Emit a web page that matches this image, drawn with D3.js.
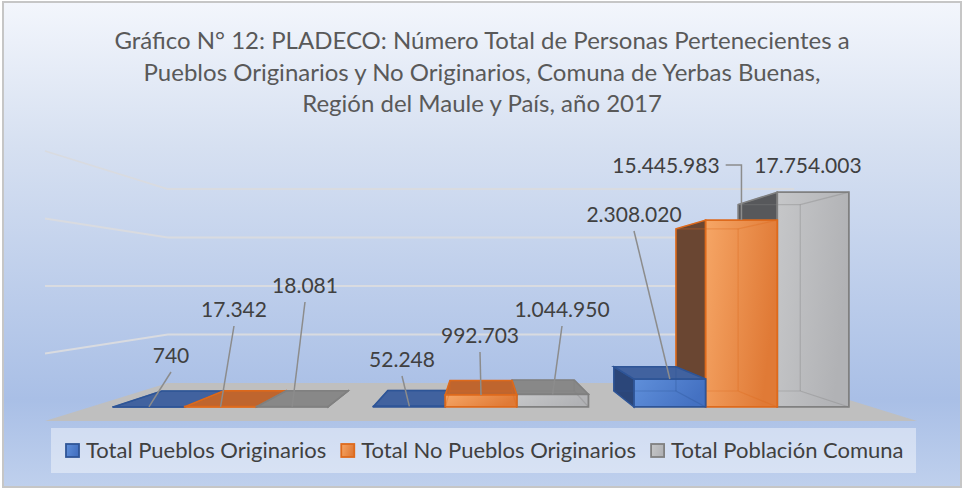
<!DOCTYPE html>
<html>
<head>
<meta charset="utf-8">
<script src="https://cdn.jsdelivr.net/npm/d3@7"></script>
<style>
  body { margin: 0; background: #fff; }
  svg { display: block; }
  text { font-family: Lato, "Noto Sans", sans-serif; }
</style>
</head>
<body>
<svg id="chart" width="964" height="489"></svg>
<script>
"use strict";

// data
var categories = ["Comuna de Yerbas Buenas", "Región del Maule", "País"];
var seriesNames = ["Total Pueblos Originarios", "Total No Pueblos Originarios", "Total Población Comuna"];
var pueblosOriginarios = [740, 52248, 2308020];
var noPueblosOriginarios = [17342, 992703, 15445983];
var poblacionComuna = [18081, 1044950, 17754003];
var gridValues = [0, 5000000, 10000000, 15000000, 20000000];
var titleLines = [
    "Gráfico N° 12: PLADECO: Número Total de Personas Pertenecientes a",
    "Pueblos Originarios y No Originarios, Comuna de Yerbas Buenas,",
    "Región del Maule y País, año 2017"
];

var seriesValues = [pueblosOriginarios, noPueblosOriginarios, poblacionComuna];

// label placement (screen centre of each data label), per category / series
var labelSpots = [
    [[171, 355], [234, 309], [305, 285]],
    [[402, 359], [480, 335], [562, 309]],
    [[634, 214], [666, 165], [808, 165]]
];

var colors = [
    { light: "#5f8fda", dark: "#4471c2", top: "#41629f", side: "#2b4679", edge: "#2f5597" },
    { light: "#f6a666", dark: "#e07a36", top: "#bf652e", side: "#6a4632", edge: "#de6a1c" },
    { light: "#c6c7c9", dark: "#b1b2b5", top: "#888888", side: "#57585b", edge: "#808080" }
];

var fmt = d3.formatLocale({ decimal: ",", thousands: ".", grouping: [3], currency: ["$", ""] }).format(",d");

var svg = d3.select("#chart");
var defs = svg.append("defs");

var bg = defs.append("linearGradient").attr("id", "bg")
    .attr("x1", 0).attr("y1", 0).attr("x2", 0).attr("y2", 1);
bg.append("stop").attr("offset", 0).attr("stop-color", "#f3f6fc");
bg.append("stop").attr("offset", 0.3).attr("stop-color", "#d6e0f1");
bg.append("stop").attr("offset", 0.82).attr("stop-color", "#a9bfe6");
bg.append("stop").attr("offset", 1).attr("stop-color", "#bfd0ed");

colors.forEach(function (c, i) {
    var g = defs.append("linearGradient").attr("id", "front" + i)
        .attr("x1", 0).attr("y1", 0).attr("x2", 1).attr("y2", 0.3);
    g.append("stop").attr("offset", 0).attr("stop-color", c.light);
    g.append("stop").attr("offset", 1).attr("stop-color", c.dark);
});

svg.append("rect")
    .attr("x", 3).attr("y", 2).attr("width", 958).attr("height", 485)
    .attr("fill", "url(#bg)")
    .attr("stroke", "#c6c6c6")
    .attr("stroke-width", 2);

// title
svg.append("g").selectAll("text")
    .data(titleLines)
    .enter()
    .append("text")
    .attr("x", 482)
    .attr("y", function (d, i) { return 49 + i * 31.5; })
    .attr("text-anchor", "middle")
    .attr("font-size", 24)
    .attr("fill", "#595959")
    .text(function (d) { return d; });

// simple perspective: front-plane coordinates pulled toward the vanishing point
var VP = { x: 481, y: 286 };
var zFloor = 0, zBarFront = 0.116, zBarBack = 0.286, zWall = 0.392;

function proj(x, y, z) {
    var s = 1 / (1 + z);
    return [VP.x + (x - VP.x) * s, VP.y + (y - VP.y) * s];
}

function poly(pts) {
    return "M" + pts.map(function (p) { return p[0].toFixed(2) + "," + p[1].toFixed(2); }).join("L") + "Z";
}

var xScale = d3.scaleBand()
    .domain(categories)
    .range([45, 917])
    .paddingInner(0.175)
    .paddingOuter(0.0875);

var xSub = d3.scaleBand()
    .domain(d3.range(seriesNames.length))
    .range([0, xScale.bandwidth()]);

var yScale = d3.scaleLinear()
    .domain([0, 20000000])
    .range([421, 151]);

var x0 = xScale.range()[0], x1 = xScale.range()[1];

// floor
svg.append("path")
    .attr("d", poly([proj(x0, yScale(0), zFloor), proj(x0, yScale(0), zWall),
                     proj(x1, yScale(0), zWall), proj(x1, yScale(0), zFloor)]))
    .attr("fill", "#bfbfbf");

// gridlines on side wall and back wall
svg.append("g").selectAll("path")
    .data(gridValues.filter(function (v) { return v > 0; }))
    .enter()
    .append("path")
    .attr("d", function (v) {
        var a = proj(x0, yScale(v), zFloor), b = proj(x0, yScale(v), zWall), c = proj(x1, yScale(v), zWall);
        return "M" + a + "L" + b + "L" + c;
    })
    .attr("fill", "none")
    .attr("stroke", "#d9dbe0")
    .attr("stroke-width", 1.8);

// bars
var bars = [];
categories.forEach(function (cat, ci) {
    seriesValues.forEach(function (vals, si) {
        var bx0 = xScale(cat) + xSub(si);
        bars.push({ ci: ci, si: si, value: vals[ci], x0: bx0, x1: bx0 + xSub.bandwidth() });
    });
});
bars.sort(function (a, b) {
    return Math.abs((b.x0 + b.x1) / 2 - VP.x) - Math.abs((a.x0 + a.x1) / 2 - VP.x);
});

var barLayer = svg.append("g");
bars.forEach(function (b) {
    var c = colors[b.si];
    var yT = yScale(b.value), yB = yScale(0);
    var ftl = proj(b.x0, yT, zBarFront), ftr = proj(b.x1, yT, zBarFront),
        fbr = proj(b.x1, yB, zBarFront), fbl = proj(b.x0, yB, zBarFront),
        btl = proj(b.x0, yT, zBarBack), btr = proj(b.x1, yT, zBarBack),
        bbr = proj(b.x1, yB, zBarBack), bbl = proj(b.x0, yB, zBarBack);
    var g = barLayer.append("g");

    if (b.x0 > VP.x) {
        g.append("path").attr("d", poly([ftl, btl, bbl, fbl]))
            .attr("fill", c.side).attr("stroke", c.edge).attr("stroke-width", 1.5);
    }
    if (b.x1 < VP.x) {
        g.append("path").attr("d", poly([ftr, btr, bbr, fbr]))
            .attr("fill", c.side).attr("stroke", c.edge).attr("stroke-width", 1.5);
    }
    if (yT > VP.y) {
        g.append("path").attr("d", poly([ftl, ftr, btr, btl]))
            .attr("fill", c.top).attr("stroke", c.edge).attr("stroke-width", 1.5);
    }
    g.append("path").attr("d", poly([ftl, ftr, fbr, fbl]))
        .attr("fill", "url(#front" + b.si + ")")
        .attr("stroke", c.edge).attr("stroke-width", 1.8);

    // see-through back edges
    var edges = [[btl, btr], [btr, bbr], [bbr, bbl], [bbl, btl], [ftl, btl], [ftr, btr], [fbr, bbr], [fbl, bbl]];
    g.selectAll("line.edge")
        .data(edges)
        .enter()
        .append("line")
        .attr("x1", function (e) { return e[0][0]; })
        .attr("y1", function (e) { return e[0][1]; })
        .attr("x2", function (e) { return e[1][0]; })
        .attr("y2", function (e) { return e[1][1]; })
        .attr("stroke", c.edge)
        .attr("stroke-opacity", 0.35)
        .attr("stroke-width", 1.2);

    b.anchor = proj((b.x0 + b.x1) / 2, yT, zBarFront);
});

// data labels with leader lines
var labelLayer = svg.append("g");
bars.forEach(function (b) {
    var spot = labelSpots[b.ci][b.si];
    var t = labelLayer.append("text")
        .attr("x", spot[0])
        .attr("y", spot[1] + 7.5)
        .attr("text-anchor", "middle")
        .attr("font-size", 21)
        .attr("fill", "#404040")
        .text(fmt(b.value));
    var half = t.node().getComputedTextLength() / 2;
    var a = b.anchor;
    var path = null;
    if (a[0] > spot[0] + half + 4 && a[1] - spot[1] > 30) {
        path = "M" + (spot[0] + half + 6) + "," + spot[1] + "L" + a[0] + "," + spot[1] + "L" + a[0] + "," + a[1];
    } else if (a[1] - (spot[1] + 17) > 15) {
        path = "M" + spot[0] + "," + (spot[1] + 17) + "L" + a[0] + "," + a[1];
    }
    if (path) {
        labelLayer.append("path")
            .attr("d", path)
            .attr("fill", "none")
            .attr("stroke", "#8c8c8c")
            .attr("stroke-width", 1.5);
    }
});

// legend
var legend = svg.append("g");
legend.append("rect")
    .attr("x", 51).attr("y", 428).attr("width", 865).attr("height", 45)
    .attr("fill", "#ffffff").attr("fill-opacity", 0.42);

var items = legend.selectAll("g.item")
    .data(seriesNames)
    .enter()
    .append("g");
items.append("rect")
    .attr("width", 13).attr("height", 13).attr("y", 444)
    .attr("fill", function (d, i) { return "url(#front" + i + ")"; })
    .attr("stroke", function (d, i) { return colors[i].edge; })
    .attr("stroke-width", 1.8);
items.append("text")
    .attr("y", 458)
    .attr("x", 20)
    .attr("font-size", 22)
    .attr("fill", "#404040")
    .text(function (d) { return d; });

var widths = [];
items.select("text").each(function () { widths.push(this.getComputedTextLength()); });
var cursor = 66;
items.each(function (d, i) {
    d3.select(this).attr("transform", "translate(" + cursor + ",0)");
    cursor += 20 + widths[i] + 15;
});
</script>
</body>
</html>
